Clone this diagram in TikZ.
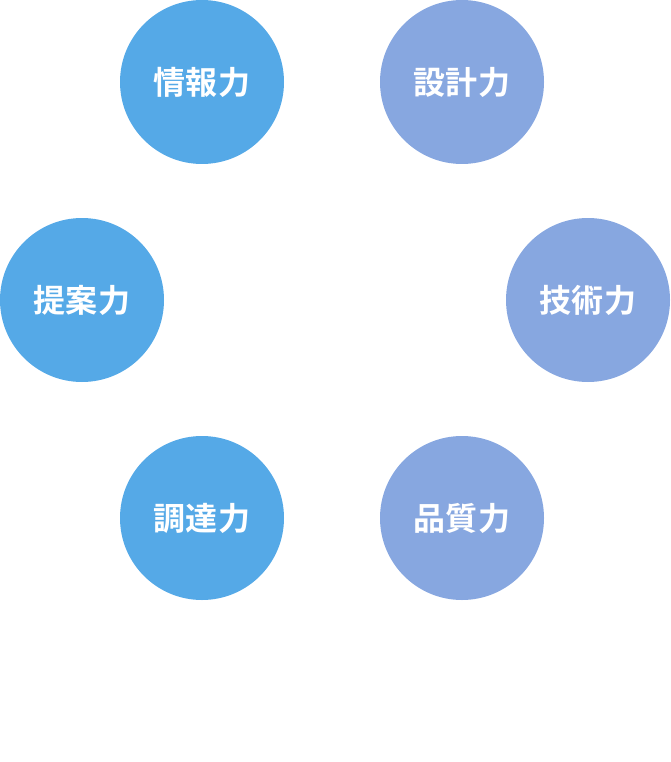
\documentclass[tikz,border=0pt]{standalone}
\usepackage{fontspec}
\newfontfamily\cjk[LetterSpace=3]{Noto Sans CJK JP Bold}
\definecolor{cblue}{HTML}{55A9E7}
\definecolor{cpurple}{HTML}{87A7E0}
\begin{document}
\begin{tikzpicture}[x=1pt,y=-1pt,
  skill/.style={circle,minimum size=164pt,inner sep=0pt,text=white,font=\cjk\fontsize{32}{32}\selectfont}]
\useasboundingbox (0,0) rectangle (670,762);
\node[skill,fill=cblue] (joho) at (202,82) {情報力};
\node[skill,fill=cpurple] (sekkei) at (462,82) {設計力};
\node[skill,fill=cblue] (teian) at (82,300) {提案力};
\node[skill,fill=cpurple] (gijutsu) at (588,300) {技術力};
\node[skill,fill=cblue] (chotatsu) at (202,518) {調達力};
\node[skill,fill=cpurple] (hinshitsu) at (462,518) {品質力};
\end{tikzpicture}
\end{document}
